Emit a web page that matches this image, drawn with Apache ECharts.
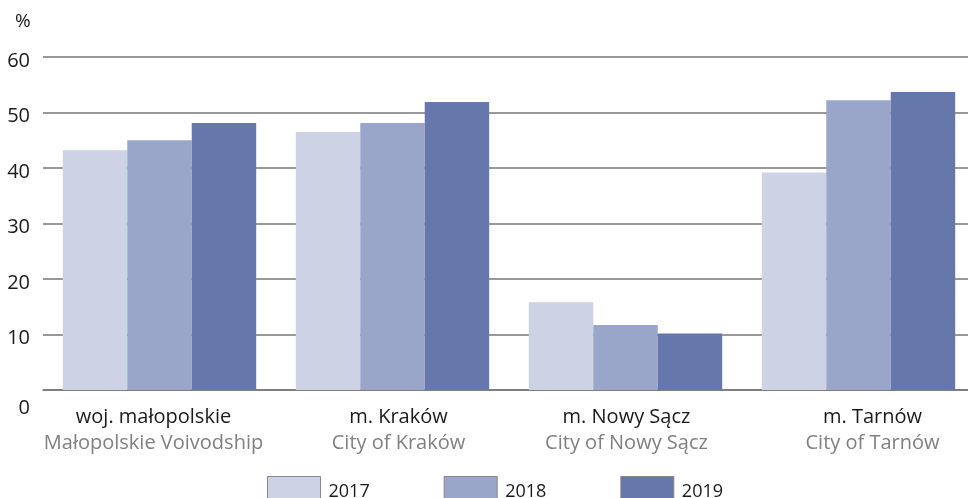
<!DOCTYPE html>
<html>
<head>
<meta charset="utf-8">
<script src="https://cdn.jsdelivr.net/npm/echarts@6/dist/echarts.min.js"></script>
<style>
  html, body { margin: 0; padding: 0; background: #fff; }
  #chart { width: 968px; height: 498px; }
</style>
</head>
<body>
<div id="chart"></div>
<script>
// data
var regionsPl = ['woj. małopolskie', 'm. Kraków', 'm. Nowy Sącz', 'm. Tarnów'];
var regionsEn = ['Małopolskie Voivodship', 'City of Kraków', 'City of Nowy Sącz', 'City of Tarnów'];
var years = ['2017', '2018', '2019'];
var values2017 = [43.2, 46.5, 15.8, 39.2];
var values2018 = [45.0, 48.1, 11.7, 52.2];
var values2019 = [48.1, 51.9, 10.2, 53.7];

var colors = ['#cdd2e5', '#9aa6c9', '#6677ab'];
var fontFamily = '"Open Sans", "Noto Sans", sans-serif';
// the category labels in the original are not quite centred under the bars
var labelShift = [-6, 6, 1, 14];

var chart = echarts.init(document.getElementById('chart'));

function barSeries(name, data, idx) {
  return {
    name: name,
    type: 'bar',
    data: data,
    barGap: '0%',
    barCategoryGap: '17%',
    itemStyle: { color: colors[idx] },
    emphasis: { disabled: true }
  };
}

function shiftPad(s) {
  return s >= 0 ? [0, 0, 0, 2 * s] : [0, -2 * s, 0, 0];
}

var xRich = {};
labelShift.forEach(function (s, i) {
  xRich['pl' + i] = { fontFamily: fontFamily, fontSize: 20, color: '#1a1a1a', lineHeight: 26, padding: shiftPad(s) };
  xRich['en' + i] = { fontFamily: fontFamily, fontSize: 20, color: '#808080', lineHeight: 26, padding: shiftPad(s) };
});

chart.setOption({
  animation: false,
  textStyle: { fontFamily: fontFamily },
  title: {
    text: '%',
    left: 10,
    top: 7,
    textStyle: { fontFamily: fontFamily, fontSize: 19, fontWeight: 'normal', color: '#1a1a1a' }
  },
  // the plot runs a little past the right edge of the picture
  grid: { left: 43, right: -7, top: 57, bottom: 108, outerBoundsMode: 'none', containLabel: false },
  legend: {
    data: years,
    left: 262,
    top: 471,
    itemWidth: 53,
    itemHeight: 30,
    itemGap: 74,
    icon: 'rect',
    itemStyle: { borderColor: '#888', borderWidth: 1 },
    textStyle: { fontFamily: fontFamily, fontSize: 18, color: '#1a1a1a', padding: [0, 0, 0, 3] }
  },
  xAxis: {
    type: 'category',
    data: regionsPl,
    axisLine: { lineStyle: { color: '#777', width: 1.5 } },
    axisTick: { show: false },
    axisLabel: {
      margin: 14,
      formatter: function (v, i) {
        return '{pl' + i + '|' + v + '}\n{en' + i + '|' + regionsEn[i] + '}';
      },
      rich: xRich
    }
  },
  yAxis: {
    type: 'value',
    min: 0,
    max: 60,
    interval: 10,
    axisLine: { show: false },
    axisTick: { show: false },
    splitLine: { lineStyle: { color: '#777', width: 1.5 } },
    axisLabel: {
      margin: 13,
      formatter: function (v) {
        return v === 0 ? '{z|0}' : '{n|' + v + '}';
      },
      rich: {
        n: { fontFamily: fontFamily, fontSize: 20, color: '#1a1a1a', padding: [8, 0, 0, 0] },
        z: { fontFamily: fontFamily, fontSize: 20, color: '#1a1a1a', padding: [36, 0, 0, 0] }
      }
    }
  },
  series: [
    barSeries(years[0], values2017, 0),
    barSeries(years[1], values2018, 1),
    barSeries(years[2], values2019, 2)
  ]
});
</script>
</body>
</html>
